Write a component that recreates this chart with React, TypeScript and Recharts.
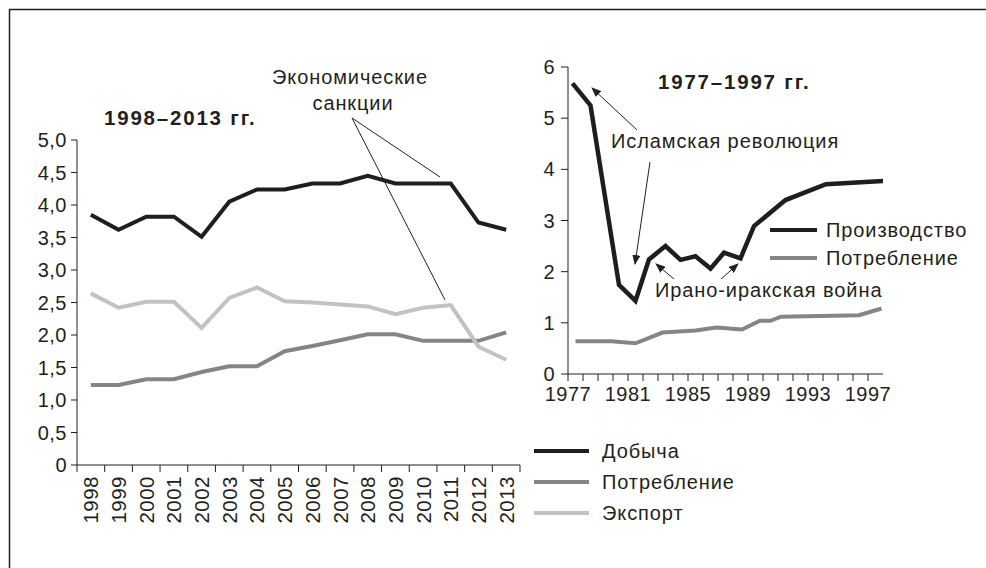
import { LineChart, Line, XAxis, YAxis } from "recharts";

// 1998–2013, млн барр./сутки
const yearsLeft = [1998, 1999, 2000, 2001, 2002, 2003, 2004, 2005, 2006, 2007, 2008, 2009, 2010, 2011, 2012, 2013];
const dobycha = [3.85, 3.62, 3.82, 3.82, 3.51, 4.05, 4.24, 4.24, 4.33, 4.33, 4.45, 4.33, 4.33, 4.33, 3.73, 3.62];
const potreblenie = [1.23, 1.23, 1.32, 1.32, 1.43, 1.52, 1.52, 1.75, 1.83, 1.92, 2.01, 2.01, 1.91, 1.91, 1.91, 2.04];
const eksport = [2.64, 2.42, 2.51, 2.51, 2.11, 2.57, 2.73, 2.52, 2.5, 2.47, 2.44, 2.32, 2.42, 2.46, 1.82, 1.62];
const leftTicks = [0, 0.5, 1, 1.5, 2, 2.5, 3, 3.5, 4, 4.5, 5];

// 1977–1997
const prodYears = [1977.3, 1978.5, 1980.4, 1981.5, 1982.4, 1983.5, 1984.5, 1985.5, 1986.5, 1987.4, 1988.5, 1989.4, 1991.5, 1994.2, 1998];
const prodValues = [5.68, 5.25, 1.74, 1.43, 2.24, 2.5, 2.23, 2.3, 2.06, 2.37, 2.26, 2.89, 3.4, 3.71, 3.77];
const consYears = [1977.5, 1979.9, 1981.5, 1983.3, 1985.5, 1986.9, 1988.6, 1989.8, 1990.5, 1991.2, 1996.4, 1997.9];
const consValues = [0.64, 0.64, 0.6, 0.81, 0.85, 0.91, 0.87, 1.04, 1.04, 1.12, 1.15, 1.28];
const rightYears = [1977, 1978, 1979, 1980, 1981, 1982, 1983, 1984, 1985, 1986, 1987, 1988, 1989, 1990, 1991, 1992, 1993, 1994, 1995, 1996, 1997];
const rightTicks = [0, 1, 2, 3, 4, 5, 6];

const FONT = "'Liberation Sans', Arial, Helvetica, sans-serif";
const INK = "#231f20";
const BLACK = "#1e1e1e";
const MID = "#858585";
const LIGHT = "#c2c2c2";

const leftSeries = [
  { key: "dobycha", name: "Добыча", color: BLACK, width: 4 },
  { key: "potreblenie", name: "Потребление", color: MID, width: 4 },
  { key: "eksport", name: "Экспорт", color: LIGHT, width: 4 },
];
const rightSeries = [
  { name: "Производство", color: BLACK, width: 4 },
  { name: "Потребление", color: MID, width: 4 },
];

const leftData = yearsLeft.map((year, i) => ({
  year,
  dobycha: dobycha[i],
  potreblenie: potreblenie[i],
  eksport: eksport[i],
}));
const prodData = prodYears.map((year, i) => ({ year, value: prodValues[i] }));
const consData = consYears.map((year, i) => ({ year, value: consValues[i] }));
const edgeTicks = [...yearsLeft.map((y) => y - 0.5), yearsLeft[yearsLeft.length - 1] + 0.5];

const tickStyle = { fontSize: 20, fill: INK, fontFamily: FONT, letterSpacing: 0.5 };

function YearTick(props: any) {
  const { x, y, payload } = props;
  return (
    <text
      x={x}
      y={y + 10}
      transform={`rotate(-90 ${x} ${y + 10})`}
      textAnchor="end"
      dominantBaseline="central"
      fontSize={20.5}
      fill={INK}
      fontFamily={FONT}
      letterSpacing={0.5}
    >
      {payload.value}
    </text>
  );
}

function Annotations() {
  const txt = { fontFamily: FONT, fontSize: 20, fill: INK, letterSpacing: 0.9 };
  const bold = { ...txt, fontSize: 20.5, fontWeight: 700, letterSpacing: 1.8 };
  return (
    <svg width={986} height={568} style={{ position: "absolute", left: 0, top: 0, pointerEvents: "none" }}>
      <defs>
        <marker id="ah" markerUnits="userSpaceOnUse" markerWidth={10} markerHeight={8} refX={9} refY={4} orient="auto">
          <path d="M0,0 L10,4 L0,8 z" fill={INK} />
        </marker>
      </defs>
      <rect x={9.5} y={9.5} width={1000} height={600} fill="none" stroke={INK} strokeWidth={1.5} />

      <text x={104} y={117} dominantBaseline="central" style={bold}>1998–2013 гг.</text>
      <text x={658} y={81} dominantBaseline="central" style={bold}>1977–1997 гг.</text>

      <text x={350} y={77} textAnchor="middle" dominantBaseline="central" style={txt}>Экономические</text>
      <text x={353} y={103} textAnchor="middle" dominantBaseline="central" style={txt}>санкции</text>
      <line x1={352} y1={118} x2={440} y2={177} stroke={INK} strokeWidth={1} />
      <line x1={352} y1={118} x2={445} y2={300} stroke={INK} strokeWidth={1} />

      <text x={611} y={141} dominantBaseline="central" style={txt}>Исламская революция</text>
      <line x1={637} y1={130} x2={592} y2={88} stroke={INK} strokeWidth={1} markerEnd="url(#ah)" />
      <line x1={650} y1={162} x2={635} y2={264} stroke={INK} strokeWidth={1} markerEnd="url(#ah)" />

      <text x={655} y={290} dominantBaseline="central" style={txt}>Ирано-иракская война</text>
      <line x1={674} y1={279} x2={656} y2={264} stroke={INK} strokeWidth={1} markerEnd="url(#ah)" />
      <line x1={721} y1={279} x2={738} y2={264} stroke={INK} strokeWidth={1} markerEnd="url(#ah)" />

      {leftSeries.map((s, i) => (
        <g key={s.key}>
          <line x1={534} x2={589} y1={451 + i * 31} y2={451 + i * 31} stroke={s.color} strokeWidth={s.width} />
          <text x={602} y={451 + i * 31} dominantBaseline="central" style={txt}>{s.name}</text>
        </g>
      ))}
      {rightSeries.map((s, i) => (
        <g key={s.name}>
          <line x1={770} x2={817} y1={230 + i * 28} y2={230 + i * 28} stroke={s.color} strokeWidth={s.width} />
          <text x={826} y={230 + i * 28} dominantBaseline="central" style={txt}>{s.name}</text>
        </g>
      ))}
    </svg>
  );
}

export default function App() {
  return (
    <div style={{ position: "fixed", left: 0, top: 0, width: 986, height: 568, background: "#fff", overflow: "hidden" }}>
      <div style={{ position: "absolute", left: 0, top: 0 }}>
        <LineChart width={540} height={568} data={leftData} margin={{ top: 140, right: 20, bottom: 0, left: 27 }}>
          <XAxis
            xAxisId="edges"
            dataKey="year"
            type="number"
            domain={[1997.5, 2013.5]}
            ticks={edgeTicks}
            tickFormatter={() => ""}
            tickSize={7}
            height={1}
            stroke={INK}
            interval={0}
          />
          <XAxis
            xAxisId="years"
            dataKey="year"
            type="number"
            domain={[1997.5, 2013.5]}
            ticks={yearsLeft}
            axisLine={false}
            tickLine={false}
            tickSize={0}
            tickMargin={0}
            height={102}
            interval={0}
            tick={<YearTick />}
          />
          <YAxis
            type="number"
            domain={[0, 5]}
            ticks={leftTicks}
            width={50}
            tickSize={6}
            tickMargin={4}
            stroke={INK}
            tick={tickStyle}
            interval={0}
            tickFormatter={(v: number) => (v === 0 ? "0" : v.toFixed(1).replace(".", ","))}
          />
          {leftSeries.map((s) => (
            <Line
              key={s.key}
              xAxisId="edges"
              dataKey={s.key}
              stroke={s.color}
              strokeWidth={s.width}
              strokeLinejoin="miter"
              dot={false}
              activeDot={false}
              isAnimationActive={false}
            />
          ))}
        </LineChart>
      </div>
      <div style={{ position: "absolute", left: 520, top: 0 }}>
        <LineChart width={380} height={420} margin={{ top: 67, right: 17, bottom: 6, left: 8 }}>
          <XAxis
            dataKey="year"
            type="number"
            domain={[1977, 1998]}
            ticks={rightYears}
            interval={0}
            tickSize={7}
            tickMargin={6}
            height={40}
            stroke={INK}
            tick={tickStyle}
            tickFormatter={(v: number) => ((v - 1977) % 4 === 0 ? String(v) : "")}
            allowDataOverflow
          />
          <YAxis
            type="number"
            domain={[0, 6]}
            ticks={rightTicks}
            width={40}
            tickSize={7}
            tickMargin={6}
            stroke={INK}
            tick={tickStyle}
            interval={0}
          />
          <Line
            data={consData}
            dataKey="value"
            stroke={MID}
            strokeWidth={4}
            dot={false}
            activeDot={false}
            isAnimationActive={false}
          />
          <Line
            data={prodData}
            dataKey="value"
            stroke={BLACK}
            strokeWidth={4.5}
            strokeLinejoin="miter"
            dot={false}
            activeDot={false}
            isAnimationActive={false}
          />
        </LineChart>
      </div>
      <Annotations />
    </div>
  );
}
